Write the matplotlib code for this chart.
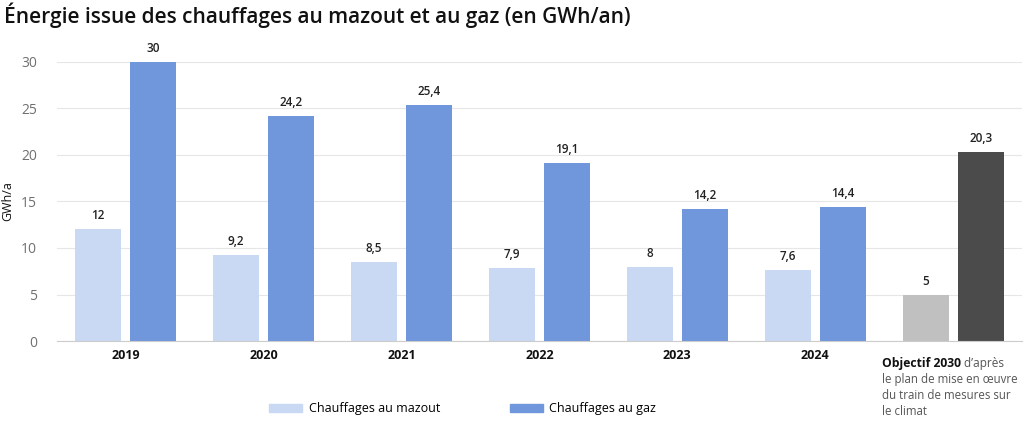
import matplotlib
matplotlib.use("Agg")
import matplotlib.pyplot as plt
from matplotlib.patches import Patch
import numpy as np

plt.rcParams['font.family'] = ['Open Sans', 'DejaVu Sans']

years = ["2019", "2020", "2021", "2022", "2023", "2024"]
mazout = [12, 9.2, 8.5, 7.9, 8, 7.6]
gaz = [30, 24.2, 25.4, 19.1, 14.2, 14.4]
objectif = [5, 20.3]
yticks = [0, 5, 10, 15, 20, 25, 30]

c_light = "#c9d9f3"
c_dark = "#7096dc"
c_grey = "#c0c0c0"
c_dgrey = "#4b4b4b"

def fmt(v):
    s = f"{v:g}"
    return s.replace(".", ",")

fig = plt.figure(figsize=(10.24, 4.43), dpi=100)
ax = fig.add_axes([0.0552, 0.2302, 0.943, 0.630])

w = 0.333
gap = 0.067
off = (w + gap) / 2
x = np.arange(len(years))
ax.bar(x - off, mazout, w, color=c_light, zorder=3)
ax.bar(x + off, gaz, w, color=c_dark, zorder=3)
xo = len(years)
ax.bar([xo - off], [objectif[0]], w, color=c_grey, zorder=3)
ax.bar([xo + off], [objectif[1]], w, color=c_dgrey, zorder=3)

lab_kw = dict(ha='center', va='bottom', fontsize=8.5, fontweight='semibold', color='#222222', clip_on=False)
for xi, v in zip(x, mazout):
    ax.text(xi - off, v + 0.75, fmt(v), **lab_kw)
for xi, v in zip(x, gaz):
    ax.text(xi + off, v + 0.75, fmt(v), **lab_kw)
ax.text(xo - off, objectif[0] + 0.75, fmt(objectif[0]), **lab_kw)
ax.text(xo + off, objectif[1] + 0.75, fmt(objectif[1]), **lab_kw)

ax.set_xlim(-0.5, len(years) + 0.5)
ax.set_ylim(0, 30)
ax.set_yticks(yticks)
ax.set_yticklabels([str(t) for t in yticks], fontsize=10, color='#707070')
ax.set_xticks(x)
ax.set_xticklabels(years, fontsize=9, fontweight='bold', color='#111111')
ax.tick_params(axis='both', length=0)
ax.tick_params(axis='y', pad=14)
ax.tick_params(axis='x', pad=6)
ax.grid(axis='y', color='#e6e6e6', linewidth=0.8, zorder=0)
for s in ['top', 'right', 'left']:
    ax.spines[s].set_visible(False)
ax.spines['bottom'].set_color('#cccccc')
ax.spines['bottom'].set_zorder(4)
ax.set_ylabel("GWh/a", fontsize=9, color='#111111')
ax.yaxis.set_label_coords(-0.044, 0.5)

# 2030 label
x0 = xo - 0.515
t1 = ax.text(x0, -1.7, "Objectif 2030", ha='left', va='top',
             fontsize=8.7, fontweight='bold', color='#111111')
ax.annotate(" d’après", xy=(1, 1), xycoords=t1, ha='left', va='top', fontsize=8.5, color='#555555')
ax.text(x0, -3.45, "le plan de mise en œuvre\ndu train de mesures sur\nle climat", ha='left', va='top',
        fontsize=8.3, color='#555555', linespacing=1.3)

fig.text(0.004, 0.965, "Énergie issue des chauffages au mazout et au gaz (en GWh/an)", ha='left', va='center',
         fontsize=15, fontweight='semibold', color='#111111')

handles = [Patch(color=c_light, label="Chauffages au mazout"), Patch(color=c_dark, label="Chauffages au gaz")]
fig.legend(handles=handles, loc='center', bbox_to_anchor=(0.452, 0.077), ncol=2, frameon=False,
           fontsize=9, handlelength=2.6, handleheight=0.7, columnspacing=5.6, handletextpad=0.55)

fig.savefig("out.png", dpi=100)
